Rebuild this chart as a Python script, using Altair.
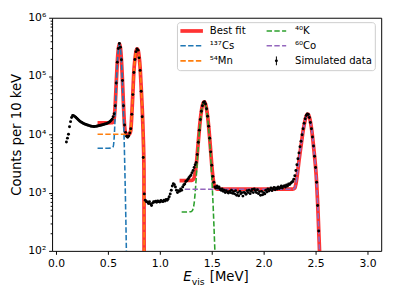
import altair as alt
import pandas as pd

# ---------------- data ----------------
BIN_START = 0.10   # MeV, first 10 keV bin
BIN_WIDTH = 0.01   # MeV
counts = [
    7400, 8600, 10000, 13500, 16500, 19500, 21000, 20900, 20300, 19600,
    18900, 18200, 17400, 16700, 16300, 15900, 15500, 15200, 14900, 14700,
    14500, 14300, 14100, 13900, 13800, 13700, 13600, 13600, 13700, 13800,
    13900, 14000, 14200, 14300, 14500, 14600, 14800, 15000, 15100, 15400,
    15700, 16100, 16600, 17200, 18200, 20000, 22500, 31000, 76000, 172000,
    296000, 362000, 312000, 190000, 84000, 31000, 14500, 10800, 9300, 8900,
    9400, 10500, 12500, 22000, 48000, 115000, 192000, 262000, 292000, 278000,
    205000, 125000, 55000, 20000, 4000, 950, 740, 700, 690, 650,
    700, 640, 600, 660, 700, 690, 710, 680, 720, 700,
    690, 730, 710, 700, 740, 720, 760, 740, 780, 850,
    950, 1100, 1300, 1420, 1370, 1250, 1100, 1000, 1080, 1050,
    1150, 1100, 1250, 1350, 1400, 1550, 1600, 1700, 1800, 1900,
    2000, 2200, 2400, 2700, 3000, 3300, 4500, 7300, 11800, 17900,
    24800, 31000, 35300, 36200, 33200, 27500, 20500, 13800, 8600, 5000,
    2950, 1900, 1500, 1250, 1200, 1300, 1200, 1250, 1150, 1100,
    1150, 1050, 1100, 1000, 1080, 1020, 980, 1050, 1000, 1100,
    970, 1040, 950, 1080, 900, 1000, 880, 1050, 960, 1000,
    870, 1010, 990, 940, 1080, 1000, 1100, 960, 1050, 1130,
    1000, 1150, 1080, 1000, 1120, 960, 1040, 900, 1050, 920,
    1000, 950, 1100, 1020, 1150, 1060, 1120, 1200, 1080, 1150,
    1230, 1120, 1200, 1150, 1250, 1180, 1220, 1300, 1200, 1280,
    1310, 1250, 1350, 1300, 1400, 1380, 1450, 1500, 1550, 1700,
    1950, 2400, 3000, 3800, 4800, 6100, 7600, 9800, 12500, 15500,
    18500, 21000, 22300, 21800, 19500, 16000, 12500, 9000, 6300, 4200,
    2700, 1500, 600, 220, 80,
]

# best fit, low-energy window (137Cs + 54Mn)
fit1_x = [0.40, 0.45, 0.50, 0.53, 0.55, 0.56, 0.57, 0.58, 0.59, 0.60, 0.61, 0.62,
          0.63, 0.64, 0.65, 0.66, 0.67, 0.68, 0.69, 0.70, 0.71, 0.72, 0.73, 0.74,
          0.75, 0.76, 0.77, 0.78, 0.79, 0.80, 0.81, 0.82, 0.83, 0.84, 0.847, 0.85]
fit1_y = [15750, 15750, 15760, 15800, 16100, 18700, 31500, 75000, 170000, 290000,
          358000, 308000, 188000, 83000, 31000, 14200, 10600, 10050, 10000, 10000,
          10300, 11700, 22000, 50000, 122000, 192000, 262000, 293000, 280000,
          218000, 140000, 65000, 28000, 9000, 2500, 1]
# best fit, high-energy window (40K + 60Co)
fit2_x = [1.19, 1.25, 1.28, 1.30, 1.31, 1.32, 1.33, 1.34, 1.35, 1.36, 1.37, 1.38,
          1.39, 1.40, 1.41, 1.42, 1.43, 1.44, 1.45, 1.46, 1.47, 1.48, 1.49, 1.50,
          1.51, 1.52, 1.53, 1.55, 1.80, 2.00, 2.20, 2.28, 2.30, 2.31, 2.32, 2.33,
          2.34, 2.35, 2.36, 2.37, 2.38, 2.39, 2.40, 2.41, 2.42, 2.43, 2.44, 2.45,
          2.46, 2.47, 2.48, 2.49, 2.50, 2.51, 2.52, 2.53, 2.54]
fit2_y = [1610, 1610, 1613, 1616, 1627, 1670, 1795, 2135, 2905, 4495, 7345, 11845,
          17915, 24875, 31275, 35475, 36195, 33195, 27295, 20345, 13745, 8545, 5045,
          2995, 1945, 1445, 1245, 1150, 1145, 1145, 1145, 1145, 1200, 1400, 1800,
          2500, 3500, 4800, 6400, 8600, 11500, 14500, 17800, 20700, 22300, 22000,
          19800, 16500, 12800, 9300, 6300, 4200, 2700, 1500, 650, 230, 80]

cs_x = [0.40, 0.45, 0.50, 0.53, 0.55, 0.56, 0.57, 0.58, 0.59, 0.60, 0.61, 0.62,
        0.63, 0.64, 0.65, 0.66, 0.67, 0.68]
cs_y = [5750, 5750, 5760, 5800, 6100, 8700, 21500, 65000, 160000, 280000, 348000,
        298000, 178000, 73000, 21000, 4200, 600, 57]

mn_x = [0.40, 0.50, 0.60, 0.66, 0.68, 0.70, 0.71, 0.72, 0.73, 0.74, 0.75, 0.76,
        0.77, 0.78, 0.79, 0.80, 0.81, 0.82, 0.83, 0.84, 0.847, 0.85]
mn_y = [10000, 10000, 10000, 10000, 10000, 10000, 10300, 11700, 22000, 50000,
        122000, 192000, 262000, 293000, 280000, 218000, 140000, 65000, 28000,
        9000, 2500, 1]

k_x = [1.21, 1.25, 1.28, 1.30, 1.31, 1.32, 1.33, 1.34, 1.35, 1.36, 1.37, 1.38,
       1.39, 1.40, 1.41, 1.42, 1.43, 1.44, 1.45, 1.46, 1.47, 1.48, 1.49, 1.50,
       1.51, 1.52, 1.53, 1.54]
k_y = [465, 465, 468, 471, 482, 525, 650, 990, 1760, 3350, 6200, 10700, 16770,
       23730, 30130, 34330, 35050, 32050, 26150, 19200, 12600, 7400, 3900, 1850,
       800, 300, 100, 30]

co_x = [1.24, 1.50, 1.80, 2.00, 2.20, 2.28, 2.30, 2.31, 2.32, 2.33, 2.34, 2.35,
        2.36, 2.37, 2.38, 2.39, 2.40, 2.41, 2.42, 2.43, 2.44, 2.45, 2.46, 2.47,
        2.48, 2.49, 2.50, 2.51, 2.52, 2.53, 2.54]
co_y = [1145, 1145, 1145, 1145, 1145, 1145, 1200, 1400, 1800, 2500, 3500, 4800,
        6400, 8600, 11500, 14500, 17800, 20700, 22300, 22000, 19800, 16500, 12800,
        9300, 6300, 4200, 2700, 1500, 650, 230, 80]

x_ticks = [0.0, 0.5, 1.0, 1.5, 2.0, 2.5, 3.0]

# ---------------- tables ----------------
df_data = pd.DataFrame({
    "x": [round(BIN_START + i * BIN_WIDTH, 3) for i in range(len(counts))],
    "y": counts,
})

df_fit = pd.concat([
    pd.DataFrame({"x": fit1_x, "y": fit1_y, "seg": "a"}),
    pd.DataFrame({"x": fit2_x, "y": fit2_y, "seg": "b"}),
])
df_comp = pd.concat([
    pd.DataFrame({"x": cs_x, "y": cs_y, "s": "cs"}),
    pd.DataFrame({"x": mn_x, "y": mn_y, "s": "mn"}),
    pd.DataFrame({"x": k_x, "y": k_y, "s": "k"}),
    pd.DataFrame({"x": co_x, "y": co_y, "s": "co"}),
])

FONT = "DejaVu Sans"
W, H = 336, 238
y_ticks = []
for m in [100, 1000, 10000, 100000]:
    y_ticks += [m * k for k in range(1, 10)]
y_ticks.append(1000000)

xs = alt.X("x:Q", scale=alt.Scale(domain=[-0.038, 3.132], nice=False, zero=False),
           axis=alt.Axis(values=x_ticks, format=".1f", title=None, grid=False,
                         tickSize=3.5, labelPadding=3))
ys = alt.Y("y:Q", scale=alt.Scale(type="log", domain=[100, 1000000], nice=False),
           axis=alt.Axis(values=y_ticks, grid=False, title="Counts per 10 keV",
                         titleFontSize=13.5, titleFont=FONT, titleFontWeight="normal",
                         titleColor="black", titleX=-36, titleY=H / 2,
                         titleAlign="center", titleBaseline="middle", titleAngle=270,
                         labelPadding=3,
                         tickSize={"condition": {"test": "indexof([100,1000,10000,100000,1000000], datum.value) >= 0", "value": 3.5}, "value": 2},
                         labelExpr="datum.value == 100 ? '10²' : datum.value == 1000 ? '10³' : datum.value == 10000 ? '10⁴' : datum.value == 100000 ? '10⁵' : datum.value == 1000000 ? '10⁶' : ''"))

fit = alt.Chart(df_fit).mark_line(color="#ff0000", strokeWidth=3.8, opacity=0.8,
                                  clip=True, interpolate="monotone").encode(
    x=xs, y=ys, detail="seg:N")

comp = alt.Chart(df_comp).mark_line(strokeWidth=1.6, strokeDash=[5.5, 2.4],
                                    clip=True, interpolate="monotone").encode(
    x="x:Q", y="y:Q",
    color=alt.Color("s:N", scale=alt.Scale(domain=["cs", "mn", "k", "co"],
                                           range=["#1f77b4", "#ff7f0e", "#2ca02c", "#9467bd"]),
                    legend=None),
    detail="s:N")

pts = alt.Chart(df_data).mark_circle(size=9, color="black", opacity=1, clip=True).encode(
    x="x:Q", y="y:Q")

one = pd.DataFrame({"k": [0]})


def deco():
    return alt.Chart(one)


layers = [fit, comp, pts]

# ---------- legend (drawn by hand, top right of the axes) ----------
layers.append(deco().mark_rect(fill="white", fillOpacity=0.8, stroke="#cccccc",
                               strokeWidth=1, cornerRadius=3).encode(
    x=alt.value(128), x2=alt.value(330), y=alt.value(5), y2=alt.value(54)))

rows = [13.5, 28.5, 44]
c1a, c1b, c1t = 131, 154, 161
c2a, c2b, c2t = 219, 239, 248

layers.append(deco().mark_rule(color="#ff0000", strokeWidth=3.8, opacity=0.8).encode(
    x=alt.value(c1a), x2=alt.value(c1b), y=alt.value(rows[0])))
for col, (a, b), r in [("#1f77b4", (c1a, c1b), rows[1]), ("#ff7f0e", (c1a, c1b), rows[2]),
                       ("#2ca02c", (c2a, c2b), rows[0]), ("#9467bd", (c2a, c2b), rows[1])]:
    layers.append(deco().mark_rule(color=col, strokeWidth=1.6, strokeDash=[5.5, 2.4]).encode(
        x=alt.value(a), x2=alt.value(b), y=alt.value(r)))
layers.append(deco().mark_rule(color="black", strokeWidth=1).encode(
    x=alt.value((c2a + c2b) / 2), y=alt.value(rows[2] - 4.5), y2=alt.value(rows[2] + 4.5)))
layers.append(deco().mark_circle(size=9, color="black", opacity=1).encode(
    x=alt.value((c2a + c2b) / 2), y=alt.value(rows[2])))

for txt, xx, r in [("Best fit", c1t, rows[0]), ("¹³⁷Cs", c1t, rows[1]), ("⁵⁴Mn", c1t, rows[2]),
                   ("⁴⁰K", c2t, rows[0]), ("⁶⁰Co", c2t, rows[1]), ("Simulated data", c2t, rows[2])]:
    layers.append(deco().mark_text(text=txt, font=FONT, fontSize=10.3, align="left",
                                   baseline="middle", color="black").encode(
        x=alt.value(xx), y=alt.value(r)))

# ---------- x-axis title with subscript ----------
layers.append(deco().mark_text(text="E", font=FONT, fontSize=13.5, fontStyle="italic",
                               align="left", baseline="alphabetic", color="black").encode(
    x=alt.value(134), y=alt.value(269)))
layers.append(deco().mark_text(text="vis", font=FONT, fontSize=9.5,
                               align="left", baseline="alphabetic", color="black").encode(
    x=alt.value(142.5), y=alt.value(272.5)))
layers.append(deco().mark_text(text="[MeV]", font=FONT, fontSize=13.5,
                               align="left", baseline="alphabetic", color="black").encode(
    x=alt.value(161), y=alt.value(269)))

chart = alt.layer(*layers).properties(
    width=W, height=H, autosize="none",
    padding={"left": 45, "top": 7, "right": 10, "bottom": 38},
).configure_view(stroke="black", strokeWidth=1).configure_axis(
    domain=False, tickColor="black", tickWidth=1, labelColor="black",
    labelFont=FONT, labelFontSize=11,
)

chart.save("out.html", embed_options={"renderer": "svg", "actions": False})
